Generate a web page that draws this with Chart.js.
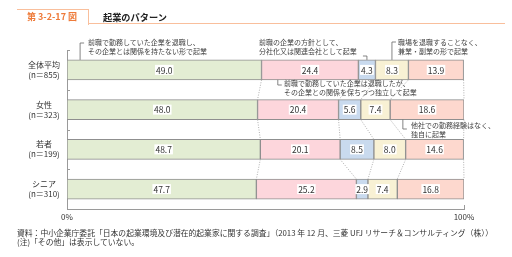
<!DOCTYPE html>
<html lang="ja">
<head>
    <meta charset="UTF-8">
    <title>起業のパターン</title>
    <style>
        body {
            margin: 0;
            background: #fff;
            font-family: "Noto Sans CJK JP", "Noto Sans", sans-serif;
        }
        #wrap {
            position: relative;
            width: 512px;
            height: 257px;
            overflow: hidden;
        }
        #chart {
            position: absolute;
            left: 0;
            top: 0;
        }
        .tab {
            position: absolute;
            left: 17px;
            top: 9px;
            width: 71px;
            height: 15px;
            border-top: 1.5px solid #f9bf9c;
            border-right: 1.5px solid #f9bf9c;
        }
        .tabline {
            position: absolute;
            left: 88px;
            top: 23px;
            width: 417px;
            border-top: 1.5px solid #f9bf9c;
        }
        .fig-no {
            position: absolute;
            left: 27px;
            top: 10px;
            font-size: 9px;
            font-weight: bold;
            color: #ee7b3a;
            white-space: nowrap;
        }
        .fig-title {
            position: absolute;
            left: 103px;
            top: 10px;
            font-size: 9.2px;
            font-weight: bold;
            color: #222;
            white-space: nowrap;
        }
        .note {
            position: absolute;
            font-size: 7px;
            line-height: 9px;
            color: #444;
            white-space: nowrap;
        }
        .footer {
            position: absolute;
            left: 17px;
            font-size: 7.8px;
            line-height: 9px;
            color: #333;
            white-space: nowrap;
        }
    </style>
    <script src="https://cdn.jsdelivr.net/npm/chart.js"></script>
</head>
<body>
<div id="wrap">
    <canvas id="chart" width="512" height="257"></canvas>
    <div class="tab"></div>
    <div class="tabline"></div>
    <div class="fig-no">第 3-2-17 図</div>
    <div class="fig-title">起業のパターン</div>

    <div class="note" style="left:88px; top:38px;">前職で勤務していた企業を退職し、<br>その企業とは関係を持たない形で起業</div>
    <div class="note" style="left:259px; top:38px;">前職の企業の方針として、<br>分社化又は関連会社として起業</div>
    <div class="note" style="left:398px; top:38px;">職場を退職することなく、<br>兼業・副業の形で起業</div>
    <div class="note" style="left:284px; top:79px;">前職で勤務していた企業は退職したが、<br>その企業との関係を保ちつつ独立して起業</div>
    <div class="note" style="left:411px; top:121px;">他社での勤務経験はなく、<br>独自に起業</div>

    <div class="footer" style="top:228px;">資料：中小企業庁委託「日本の起業環境及び潜在的起業家に関する調査」（2013 年 12 月、三菱 UFJ リサーチ＆コンサルティング（株））</div>
    <div class="footer" style="top:237px;">(注)「その他」は表示していない。</div>
</div>

<script>
    // カテゴリー
    const categories = [
        ['全体平均', '(n＝855)'],
        ['女性', '(n＝323)'],
        ['若者', '(n＝199)'],
        ['シニア', '(n＝310)']
    ];

    // 系列 (%)
    const seriesNames = [
        '前職で勤務していた企業を退職し、その企業とは関係を持たない形で起業',
        '前職で勤務していた企業は退職したが、その企業との関係を保ちつつ独立して起業',
        '前職の企業の方針として、分社化又は関連会社として起業',
        '職場を退職することなく、兼業・副業の形で起業',
        '他社での勤務経験はなく、独自に起業'
    ];
    const noRelation = [49.0, 48.0, 48.7, 47.7];
    const withRelation = [24.4, 20.4, 20.1, 25.2];
    const spinOff = [4.3, 5.6, 8.5, 2.9];
    const sideBusiness = [8.3, 7.4, 8.0, 7.4];
    const noExperience = [13.9, 18.6, 14.6, 16.8];

    const xTicks = [0, 100];

    const seriesData = [noRelation, withRelation, spinOff, sideBusiness, noExperience];
    const fills = ['#e3edd3', '#fdd6dc', '#c9daee', '#f8f1d4', '#fdd8ce'];

    const FONT = '"Noto Sans CJK JP", "Noto Sans", sans-serif';

    // ラベル・点線・引き出し線
    const decorPlugin = {
        id: 'decor',
        afterDatasetsDraw(chart) {
            const ctx = chart.ctx;
            const xs = chart.scales.x;
            const ys = chart.scales.y;
            const metas = seriesData.map((_, d) => chart.getDatasetMeta(d));

            const top = (i) => metas[0].data[i].y - metas[0].data[i].height / 2;
            const bottom = (i) => metas[0].data[i].y + metas[0].data[i].height / 2;

            ctx.save();

            // 行間の点線
            ctx.strokeStyle = '#9a9a9a';
            ctx.lineWidth = 0.8;
            ctx.setLineDash([1, 1.5]);
            for (let i = 0; i < categories.length - 1; i++) {
                metas.forEach((meta, d) => {
                    const a = meta.data[i];
                    const b = meta.data[i + 1];
                    ctx.beginPath();
                    ctx.moveTo(a.x, bottom(i));
                    ctx.lineTo(b.x, top(i + 1));
                    ctx.stroke();
                });
            }
            ctx.setLineDash([]);

            // 軸の内向き目盛り
            ctx.strokeStyle = '#9a9a9a';
            ctx.lineWidth = 1;
            const edges = [ys.top, ys.bottom];
            for (let i = 0; i < categories.length - 1; i++) {
                edges.push((ys.getPixelForValue(i) + ys.getPixelForValue(i + 1)) / 2);
            }
            edges.forEach(y => {
                ctx.beginPath();
                ctx.moveTo(xs.left, Math.round(y) + 0.5);
                ctx.lineTo(xs.left + 3, Math.round(y) + 0.5);
                ctx.stroke();
            });
            xTicks.forEach(v => {
                const x = Math.round(xs.getPixelForValue(v)) + 0.5;
                ctx.beginPath();
                ctx.moveTo(x, ys.bottom);
                ctx.lineTo(x, ys.bottom - 4);
                ctx.stroke();
            });

            // 引き出し線
            ctx.strokeStyle = '#666';
            ctx.lineWidth = 0.8;
            const segMid = (d, i) => (metas[d].data[i].x + metas[d].data[i].base) / 2;
            const lines = [
                [[xs.getPixelForValue(3.3) + 4, 43], [xs.getPixelForValue(3.3), 43], [xs.getPixelForValue(3.3), top(0)]],
                [[segMid(2, 0) - 4, 56], [segMid(2, 0), 56], [segMid(2, 0), top(0)]],
                [[segMid(3, 0) + 4, 42], [segMid(3, 0), 42], [segMid(3, 0), top(0)]],
                [[xs.getPixelForValue(53.1), bottom(0)], [xs.getPixelForValue(53.1), 85], [xs.getPixelForValue(53.1) + 4, 85]],
                [[xs.getPixelForValue(84.6), bottom(1)], [xs.getPixelForValue(84.6), 129], [xs.getPixelForValue(84.6) + 4, 129]]
            ];
            lines.forEach(pts => {
                ctx.beginPath();
                pts.forEach((p, k) => k ? ctx.lineTo(p[0], p[1]) : ctx.moveTo(p[0], p[1]));
                ctx.stroke();
            });

            // 数値ラベル
            ctx.font = '8.5px ' + FONT;
            ctx.textAlign = 'center';
            ctx.textBaseline = 'middle';
            metas.forEach((meta, d) => {
                meta.data.forEach((el, i) => {
                    const txt = seriesData[d][i].toFixed(1);
                    const cx = (el.x + el.base) / 2;
                    const w = ctx.measureText(txt).width + 2;
                    ctx.fillStyle = '#fff';
                    ctx.fillRect(cx - w / 2, el.y - 5, w, 10);
                    ctx.fillStyle = '#333';
                    ctx.fillText(txt, cx, el.y + 0.5);
                });
            });

            ctx.restore();
        }
    };

    new Chart(document.getElementById('chart'), {
        type: 'bar',
        data: {
            labels: categories,
            datasets: seriesData.map((values, d) => ({
                label: seriesNames[d],
                data: values,
                backgroundColor: fills[d],
                borderColor: '#8f8f8f',
                borderWidth: 1,
                borderSkipped: false,
                barThickness: 20
            }))
        },
        options: {
            indexAxis: 'y',
            responsive: false,
            animation: false,
            events: [],
            layout: {
                padding: { left: 0, right: 48, top: 50, bottom: 28 }
            },
            scales: {
                x: {
                    stacked: true,
                    min: 0,
                    max: 100,
                    afterBuildTicks: (scale) => {
                        scale.ticks = xTicks.map(v => ({ value: v }));
                    },
                    afterFit: (scale) => { scale.height = 20; },
                    grid: { display: false, drawTicks: false },
                    border: { display: true, color: '#9a9a9a', width: 1 },
                    ticks: {
                        padding: 3,
                        color: '#333',
                        font: { family: FONT, size: 8 },
                        callback: (v) => v + '%'
                    }
                },
                y: {
                    stacked: true,
                    afterFit: (scale) => { scale.width = 67; },
                    grid: { display: false, drawTicks: false },
                    border: { display: true, color: '#9a9a9a', width: 1 },
                    ticks: {
                        crossAlign: 'center',
                        padding: 7,
                        color: '#333',
                        font: { family: FONT, size: 8, lineHeight: 1.25 }
                    }
                }
            },
            plugins: {
                legend: { display: false },
                tooltip: { enabled: false }
            }
        },
        plugins: [decorPlugin]
    });
</script>
</body>
</html>
